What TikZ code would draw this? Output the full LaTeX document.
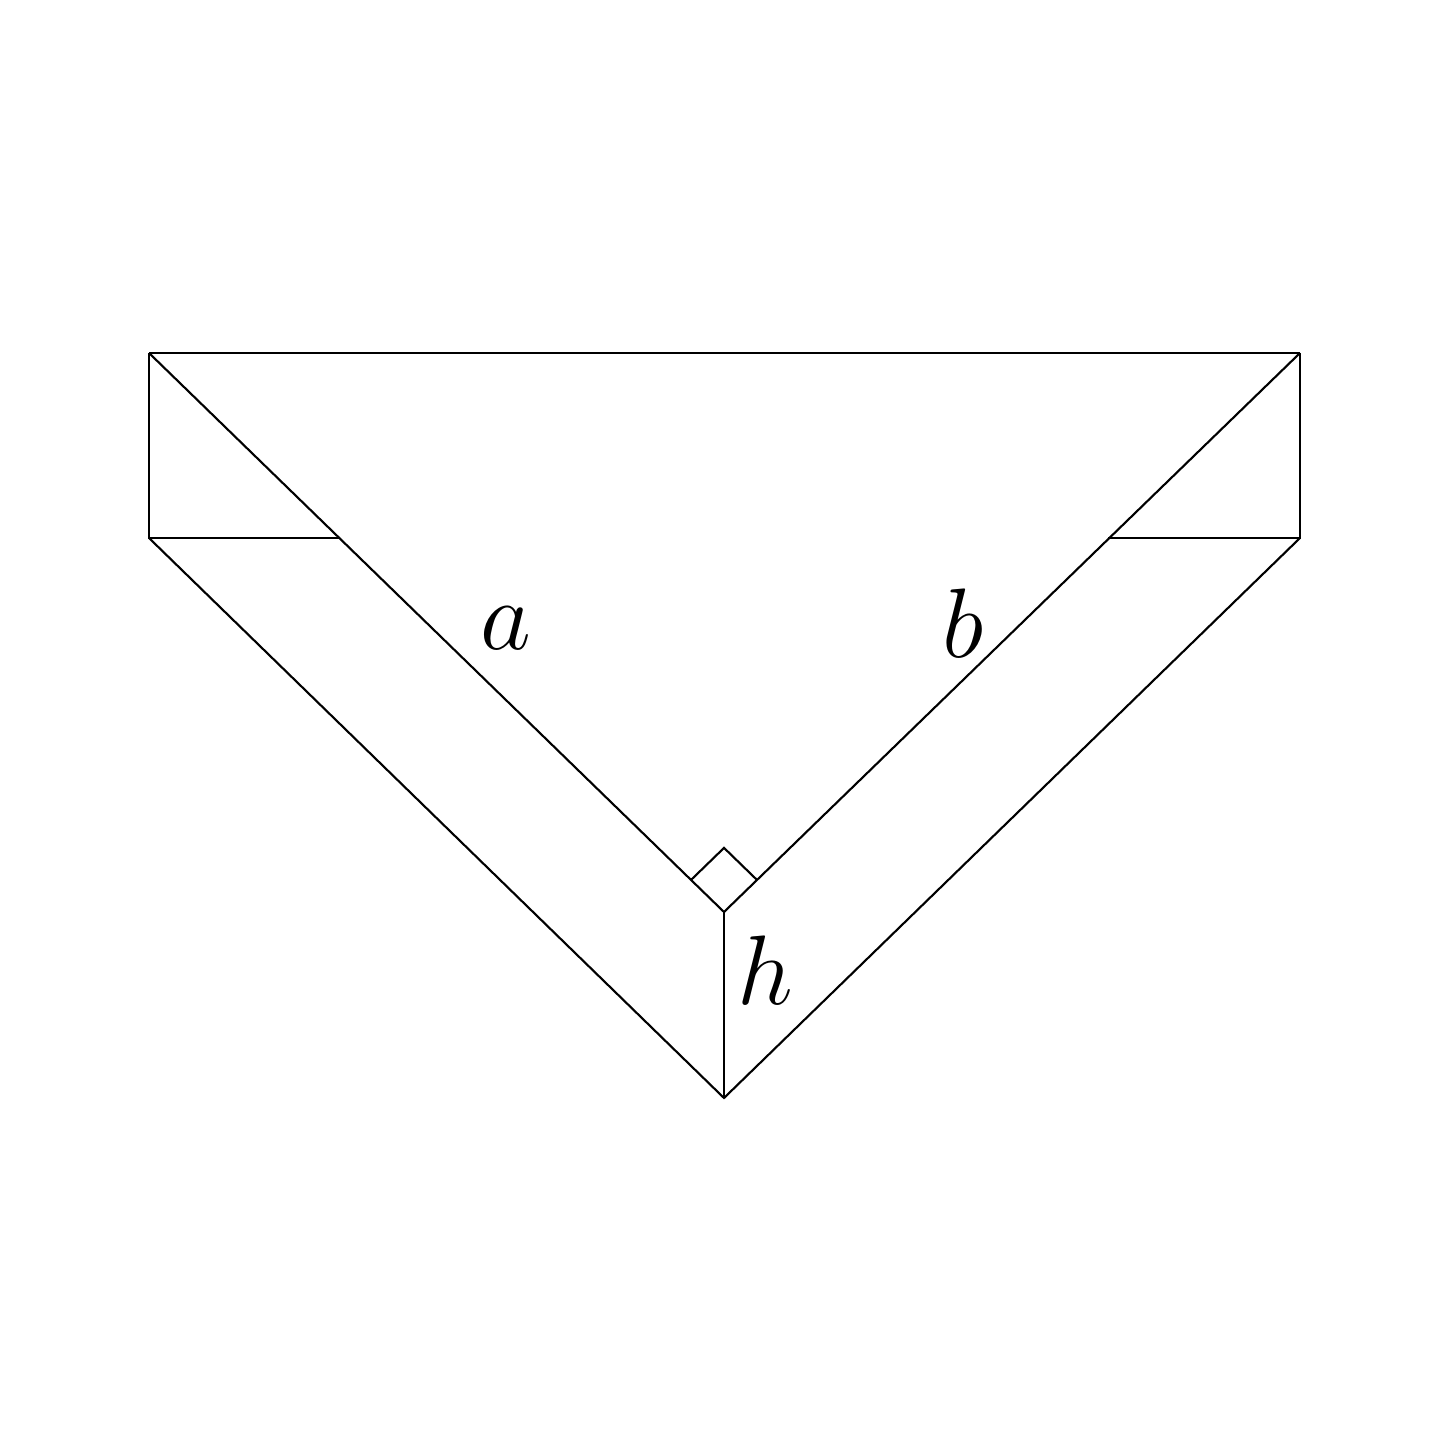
\documentclass[tikz,border=0pt]{standalone}
\usepackage{amsmath}
\usetikzlibrary{calc}

\begin{document}
\begin{tikzpicture}[
    edge/.style={draw=black, line width=0.6pt},
    sidelabel/.style={font=\Huge, text=black, inner sep=0pt, scale=1.13, transform shape}
]

\useasboundingbox (0,0) rectangle (14.49,14.49);
\fill[white] (0,0) rectangle (14.49,14.49);

% corners of the figure
\coordinate (TL) at (1.49,10.96);
\coordinate (TR) at (13.00,10.96);
\coordinate (BL) at (1.49,9.11);
\coordinate (BR) at (13.00,9.11);
\coordinate (C) at (7.24,5.37);
\coordinate (D) at (7.24,3.51);
\coordinate (ML) at (3.40,9.11);
\coordinate (MR) at (11.08,9.11);

% big triangle and its two strips
\draw[edge] (TL) -- (TR);
\draw[edge] (TL) -- (C) -- (TR);
\draw[edge] (TL) -- (BL) -- (ML);
\draw[edge] (TR) -- (BR) -- (MR);
\draw[edge] (BL) -- (D) -- (BR);
\draw[edge] (C) -- (D);

% right angle mark
\coordinate (RA) at ($(C)!0.46cm!(TL)$);
\coordinate (RB) at ($(C)!0.46cm!(TR)$);
\draw[edge] (RA) -- ($(RA)+(RB)-(C)$) -- (RB);

\node[sidelabel] (a) at (5.06,8.21) {$a$};
\node[sidelabel] (b) at (9.63,8.26) {$b$};
\node[sidelabel] (h) at (7.65,4.79) {$h$};

\end{tikzpicture}
\end{document}
